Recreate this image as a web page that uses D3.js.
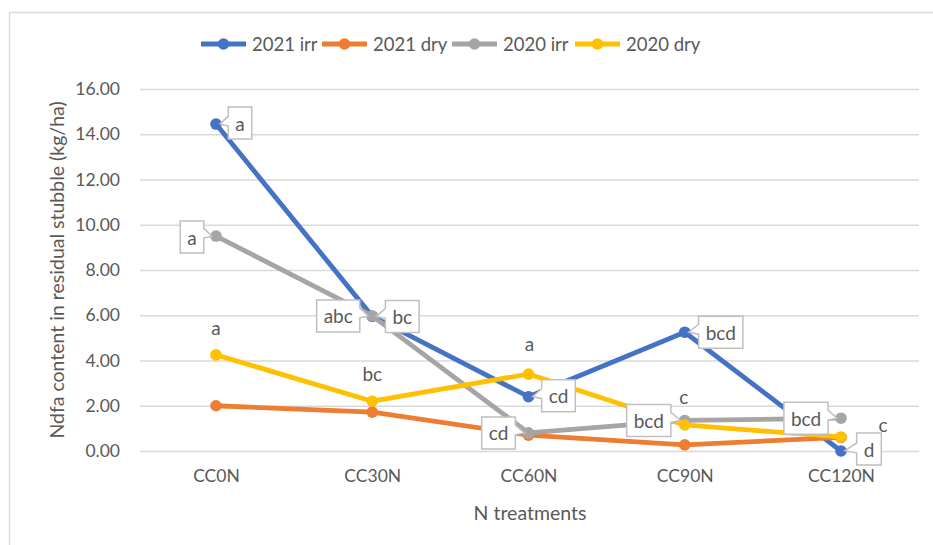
<!DOCTYPE html>
<html><head><meta charset="utf-8">
<script src="https://cdn.jsdelivr.net/npm/d3@7"></script>
<style>
body{margin:0;background:#fff;}
svg text{font-family:Lato,"Open Sans",sans-serif;fill:#595959;}
</style></head>
<body><svg id="c" width="933" height="545"></svg>
<script>
// ---- data ----
const categories = ["CC0N","CC30N","CC60N","CC90N","CC120N"];
const seriesNames = ["2021 irr","2021 dry","2020 irr","2020 dry"];
const irr2021 = [14.45, 5.95, 2.4, 5.25, 0.0];
const dry2021 = [2.0, 1.72, 0.7, 0.27, 0.6];
const irr2020 = [9.5, 5.97, 0.8, 1.35, 1.45];
const dry2020 = [4.25, 2.2, 3.4, 1.15, 0.62];
const yTicks = [0,2,4,6,8,10,12,14,16];
// significance letters per series (index order = categories)
const letters2021irr = ["a","bc","cd","bcd","d"];
const letters2020irr = ["a","abc","cd","bcd","bcd"];
const letters2020dry = ["a","bc","a","c","c"];

// ---- layout / style ----
const colors = ["#4472C4","#ED7D31","#A5A5A5","#FFC000"];
const seriesData = [irr2021, dry2021, irr2020, dry2020];
const svg = d3.select("#c");
const m = {left:140, right:919, top:89, bottom:451};
const x = d3.scalePoint().domain(categories).range([216,841]);
const y = d3.scaleLinear().domain([0,16]).range([m.bottom,m.top]);

// frame
svg.append("rect").attr("x",9.5).attr("y",12.5).attr("width",940).attr("height",560)
  .attr("fill","none").attr("stroke","#D9D9D9").attr("stroke-width",1.5);

// gridlines
const yAxis = d3.axisLeft(y).tickValues(yTicks).tickFormat(d3.format(".2f"))
  .tickSize(-(m.right-m.left)).tickPadding(20);
const ga = svg.append("g").attr("transform",`translate(${m.left},0)`).call(yAxis);
ga.select(".domain").remove();
ga.selectAll(".tick line").attr("stroke","#D9D9D9").attr("stroke-width",1.3);
ga.selectAll(".tick text").attr("font-size",17.5).attr("fill","#595959")
  .style("font-family","Lato");

// x axis labels
const xAxis = d3.axisBottom(x).tickSize(0).tickPadding(19);
const gx = svg.append("g").attr("transform",`translate(0,${m.bottom})`).call(xAxis);
gx.select(".domain").remove();
gx.selectAll(".tick text").attr("font-size",17.5).attr("fill","#595959")
  .style("font-family","Lato");

// axis titles
svg.append("text").attr("transform","translate(56,270) rotate(-90)")
  .attr("text-anchor","middle").attr("dominant-baseline","central")
  .attr("font-size",19.5).text("Ndfa content in residual stubble (kg/ha)");
svg.append("text").attr("x",530).attr("y",512).attr("text-anchor","middle")
  .attr("dominant-baseline","central").attr("font-size",19.5).text("N treatments");

// lines
const line = d3.line().x((d,i)=>x(categories[i])).y(d=>y(d));
seriesData.forEach((vals,si)=>{
  const g = svg.append("g");
  g.append("path").datum(vals).attr("d",line).attr("fill","none")
    .attr("stroke",colors[si]).attr("stroke-width",4.8).attr("stroke-linejoin","round");
  g.selectAll("circle").data(vals).join("circle")
    .attr("cx",(d,i)=>x(categories[i])).attr("cy",d=>y(d)).attr("r",5.8)
    .attr("fill",colors[si]);
});

// legend
const legX = [201,322,452,575];
seriesNames.forEach((n,i)=>{
  const g = svg.append("g").attr("transform",`translate(${legX[i]},44)`);
  g.append("line").attr("x1",0).attr("x2",45).attr("stroke",colors[i]).attr("stroke-width",4.8);
  g.append("circle").attr("cx",22.5).attr("r",5.8).attr("fill",colors[i]);
  g.append("text").attr("x",51).attr("dominant-baseline","central").attr("font-size",18.5).text(n);
});

// callout labels (box offsets relative to point)
const calloutOffsets = {
  "0-0":[24,-1], "0-1":[30,0], "0-2":[30,-1], "0-3":[36,0], "0-4":[28,-2],
  "2-0":[-24,1], "2-1":[-34,0], "2-2":[-30,0], "2-3":[-36,0], "2-4":[-35,0]
};
const callouts = [];
letters2021irr.forEach((t,i)=>callouts.push({s:0,i,t,v:irr2021[i]}));
letters2020irr.forEach((t,i)=>callouts.push({s:2,i,t,v:irr2020[i]}));

const cg = svg.append("g");
callouts.forEach(c=>{
  const px = x(categories[c.i]), py = y(c.v);
  const off = calloutOffsets[c.s+"-"+c.i];
  const cx = px+off[0], cy = py+off[1];
  const txt = cg.append("text").attr("x",cx).attr("y",cy).attr("text-anchor","middle")
    .attr("dominant-baseline","central").attr("font-size",19).text(c.t);
  const w = txt.node().getComputedTextLength()+14, h = 32;
  const x0=cx-w/2, x1=cx+w/2, y0=cy-h/2, y1=cy+h/2;
  const ang = Math.atan2(cy-py, cx-px);
  const tx = px+Math.cos(ang)*4, ty = py+Math.sin(ang)*4;
  let pts;
  const b = Math.max(y0+3, Math.min(y1-13, py-8));
  if (px < x0) {
    pts = [[x0,y0],[x1,y0],[x1,y1],[x0,y1],[x0,b+10],[tx,ty],[x0,b]];
  } else {
    pts = [[x0,y0],[x1,y0],[x1,b],[tx,ty],[x1,b+10],[x1,y1],[x0,y1]];
  }
  cg.insert("path","text").attr("d","M"+pts.map(p=>p.join(",")).join("L")+"Z")
    .attr("fill","#fff").attr("stroke","#BFBFBF").attr("stroke-width",1.5);
});

// plain labels for 2020 dry
const plainOffsets = [[0,-27],[0,-28],[1,-31],[-1,-28],[42,-12]];
letters2020dry.forEach((t,i)=>{
  svg.append("text").attr("x",x(categories[i])+plainOffsets[i][0])
    .attr("y",y(dry2020[i])+plainOffsets[i][1]).attr("text-anchor","middle")
    .attr("dominant-baseline","central").attr("font-size",19).text(t);
});
</script></body></html>
